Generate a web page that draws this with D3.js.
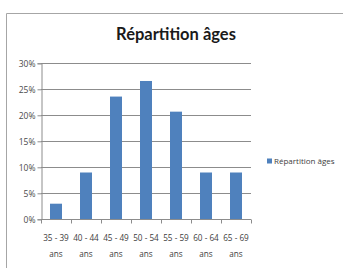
<!DOCTYPE html>
<html><head><meta charset="utf-8">
<script src="https://cdn.jsdelivr.net/npm/d3@7/dist/d3.min.js"></script>
<style>body{margin:0;background:#fff}svg{display:block}</style>
</head><body>
<script>
const categories = ["35 - 39 ans","40 - 44 ans","45 - 49 ans","50 - 54 ans","55 - 59 ans","60 - 64 ans","65 - 69 ans"];
const values = [3.0, 9.0, 23.6, 26.6, 20.7, 9.0, 9.0];
const yTicks = [0, 5, 10, 15, 20, 25, 30];
const seriesName = "Répartition âges";
const title = "Répartition âges";

const W = 343, H = 268;
const svg = d3.select("body").append("svg").attr("width", W).attr("height", H);
svg.append("rect").attr("width", W).attr("height", H).attr("fill", "#fff");
// frame
svg.append("path").attr("d", `M6.5,${H} V13.5 H${W}`).attr("fill","none").attr("stroke","#a6a6a6").attr("stroke-width",1);

const x0 = 41, x1 = 251, yTop = 63.3, yBot = 219.3;
const x = d3.scaleBand().domain(categories).range([x0, x1]).paddingInner(0.6).paddingOuter(0.3);
const y = d3.scaleLinear().domain([0, 30]).range([yBot, yTop]);

// gridlines
svg.append("g").selectAll("line").data(yTicks.filter(d => d > 0)).join("line")
  .attr("x1", x0).attr("x2", x1).attr("y1", d => Math.round(y(d)) + 0.5).attr("y2", d => Math.round(y(d)) + 0.5)
  .attr("stroke", "#8c8c8c").attr("stroke-width", 1);

// bars
svg.append("g").selectAll("rect").data(values).join("rect")
  .attr("x", (d, i) => x(categories[i])).attr("width", x.bandwidth())
  .attr("y", d => y(d)).attr("height", d => yBot - y(d))
  .attr("fill", "#4f81bd");

// y axis
const yAxis = d3.axisLeft(y).tickValues(yTicks).tickSize(4).tickFormat(d => d + "%");
const gy = svg.append("g").attr("transform", `translate(${x0 + 0.5},0)`).call(yAxis);
gy.select(".domain").attr("stroke", "#8c8c8c");
gy.selectAll(".tick line").attr("stroke", "#8c8c8c");
gy.selectAll("text").attr("font-family", "Open Sans, sans-serif").attr("font-size", 8.5).attr("fill", "#4a4a4a").attr("x", -6);

// x axis
const gx = svg.append("g").attr("transform", `translate(0,${Math.round(yBot) + 0.5})`);
gx.append("line").attr("x1", x0).attr("x2", x1).attr("stroke", "#8c8c8c");
const step = x.step();
const bounds = d3.range(categories.length + 1).map(i => x0 + i * step);
gx.selectAll("line.tk").data(bounds).join("line").attr("class","tk")
  .attr("x1", d => Math.round(d) + 0.5).attr("x2", d => Math.round(d) + 0.5).attr("y1", 0).attr("y2", 4)
  .attr("stroke", "#8c8c8c");
const lab = gx.selectAll("text").data(categories).join("text")
  .attr("text-anchor", "middle").attr("font-family", "Open Sans, sans-serif").attr("font-size", 8.2).attr("fill", "#404040")
  .attr("transform", d => `translate(${x(d) + x.bandwidth() / 2},0)`);
lab.append("tspan").attr("x", 0).attr("y", 21).text(d => d.split(" ").slice(0, 3).join(" "));
lab.append("tspan").attr("x", 0).attr("y", 37).text(d => d.split(" ").slice(3).join(" "));

// title
svg.append("text").attr("x", 176).attr("y", 40).attr("text-anchor", "middle")
  .attr("font-family", "Lato, sans-serif").attr("font-weight", "bold").attr("font-size", 16.5).attr("fill", "#1a1a1a")
  .text(title);

// legend
svg.append("rect").attr("x", 267).attr("y", 158.5).attr("width", 5).attr("height", 5).attr("fill", "#4f81bd");
svg.append("text").attr("x", 274).attr("y", 164).attr("font-family", "Open Sans, sans-serif").attr("font-size", 8)
  .attr("fill", "#404040").text(seriesName);
</script>
</body></html>
